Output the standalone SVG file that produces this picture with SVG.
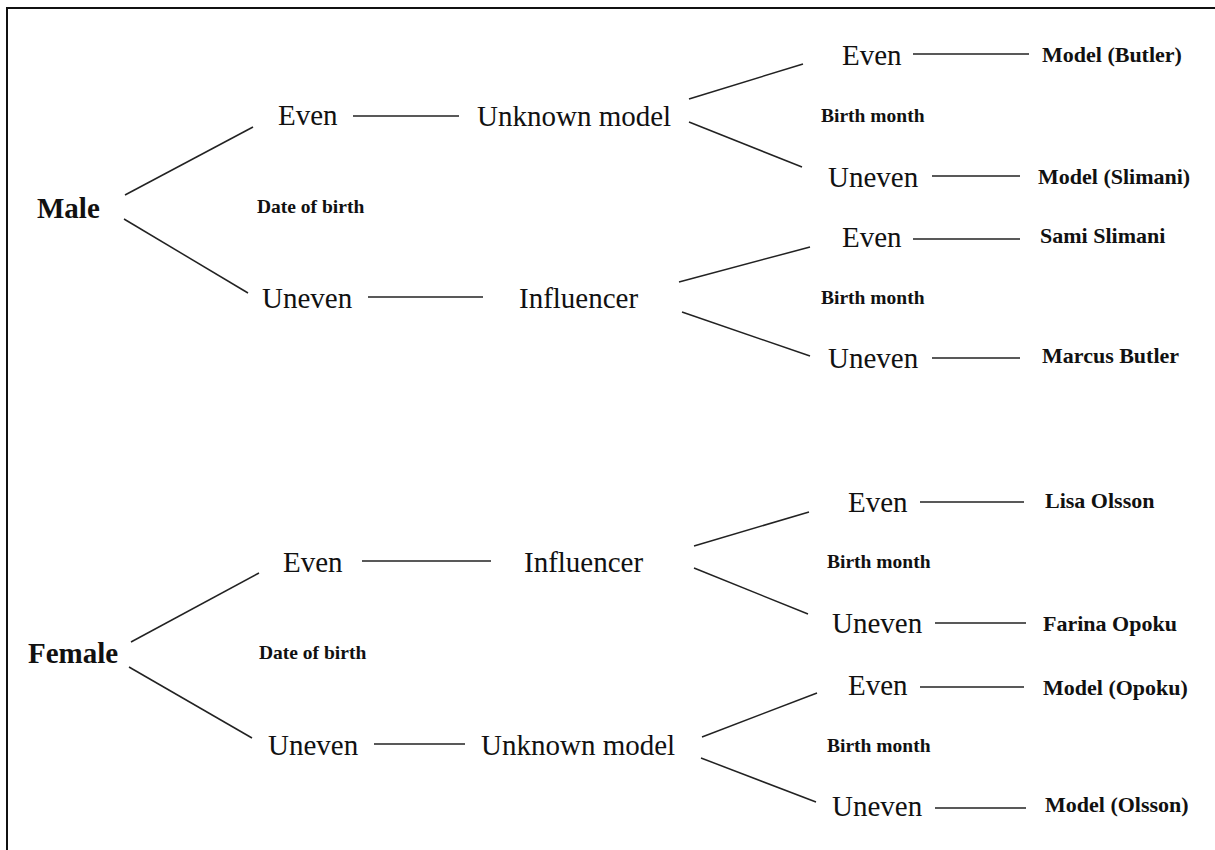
<svg xmlns="http://www.w3.org/2000/svg" width="1215" height="850" viewBox="0 0 1215 850">
<style>
.n{font-family:"Liberation Serif","Times New Roman",serif;font-size:29px;fill:#111}
.r{font-family:"Liberation Serif","Times New Roman",serif;font-size:29px;font-weight:bold;fill:#111}
.l{font-family:"Liberation Serif","Times New Roman",serif;font-size:22px;font-weight:bold;fill:#111}
.c{font-family:"Liberation Serif","Times New Roman",serif;font-size:19.5px;font-weight:bold;fill:#111}
.e{stroke:#222;stroke-width:1.5;fill:none}
</style>
<rect width="1215" height="850" fill="#fff"/>
<path d="M7 850 V8 H1215" fill="none" stroke="#111" stroke-width="2"/>
<g id="connectors">
<line class="e" x1="125" y1="195" x2="253" y2="127"/>
<line class="e" x1="124" y1="219" x2="248" y2="293"/>
<line class="e" x1="353" y1="116" x2="459" y2="116"/>
<line class="e" x1="368" y1="297" x2="483" y2="297"/>
<line class="e" x1="689" y1="99" x2="803" y2="64"/>
<line class="e" x1="689" y1="122" x2="802" y2="167"/>
<line class="e" x1="679" y1="282" x2="810" y2="247"/>
<line class="e" x1="682" y1="312" x2="810" y2="356"/>
<line class="e" x1="913" y1="54" x2="1029" y2="54"/>
<line class="e" x1="932" y1="176" x2="1020" y2="176"/>
<line class="e" x1="913" y1="239" x2="1020" y2="239"/>
<line class="e" x1="932" y1="358" x2="1020" y2="358"/>
<line class="e" x1="131" y1="642" x2="259" y2="573"/>
<line class="e" x1="129" y1="667" x2="252" y2="738"/>
<line class="e" x1="362" y1="561" x2="491" y2="561"/>
<line class="e" x1="374" y1="744" x2="465" y2="744"/>
<line class="e" x1="694" y1="546" x2="809" y2="512"/>
<line class="e" x1="694" y1="568" x2="808" y2="614"/>
<line class="e" x1="702" y1="737" x2="817" y2="693"/>
<line class="e" x1="701" y1="758" x2="816" y2="802"/>
<line class="e" x1="920" y1="502" x2="1024" y2="502"/>
<line class="e" x1="935" y1="623" x2="1026" y2="623"/>
<line class="e" x1="920" y1="687" x2="1024" y2="687"/>
<line class="e" x1="935" y1="808" x2="1026" y2="808"/>
</g>
<g id="male"><text class="r" x="37" y="218">Male</text></g>
<g id="dob-m"><text class="c" x="257" y="213">Date of birth</text></g>
<g id="m-even"><text class="n" x="278" y="125">Even</text></g>
<g id="m-uneven"><text class="n" x="262" y="308">Uneven</text></g>
<g id="m-unknown"><text class="n" x="477" y="126">Unknown model</text></g>
<g id="m-influencer"><text class="n" x="519" y="308">Influencer</text></g>
<g id="bm1"><text class="c" x="821" y="122">Birth month</text></g>
<g id="bm2"><text class="c" x="821" y="304">Birth month</text></g>
<g id="m-e1"><text class="n" x="842" y="65">Even</text></g>
<g id="m-u1"><text class="n" x="828" y="187">Uneven</text></g>
<g id="m-e2"><text class="n" x="842" y="247">Even</text></g>
<g id="m-u2"><text class="n" x="828" y="368">Uneven</text></g>
<g id="leaf1"><text class="l" x="1042" y="62">Model (Butler)</text></g>
<g id="leaf2"><text class="l" x="1038" y="184">Model (Slimani)</text></g>
<g id="leaf3"><text class="l" x="1040" y="243">Sami Slimani</text></g>
<g id="leaf4"><text class="l" x="1042" y="363">Marcus Butler</text></g>
<g id="female"><text class="r" x="28" y="663">Female</text></g>
<g id="dob-f"><text class="c" x="259" y="659">Date of birth</text></g>
<g id="f-even"><text class="n" x="283" y="572">Even</text></g>
<g id="f-uneven"><text class="n" x="268" y="755">Uneven</text></g>
<g id="f-influencer"><text class="n" x="524" y="572">Influencer</text></g>
<g id="f-unknown"><text class="n" x="481" y="755">Unknown model</text></g>
<g id="bm3"><text class="c" x="827" y="568">Birth month</text></g>
<g id="bm4"><text class="c" x="827" y="752">Birth month</text></g>
<g id="f-e1"><text class="n" x="848" y="512">Even</text></g>
<g id="f-u1"><text class="n" x="832" y="633">Uneven</text></g>
<g id="f-e2"><text class="n" x="848" y="695">Even</text></g>
<g id="f-u2"><text class="n" x="832" y="816">Uneven</text></g>
<g id="leaf5"><text class="l" x="1045" y="508">Lisa Olsson</text></g>
<g id="leaf6"><text class="l" x="1043" y="631">Farina Opoku</text></g>
<g id="leaf7"><text class="l" x="1043" y="695">Model (Opoku)</text></g>
<g id="leaf8"><text class="l" x="1045" y="812">Model (Olsson)</text></g>
</svg>
